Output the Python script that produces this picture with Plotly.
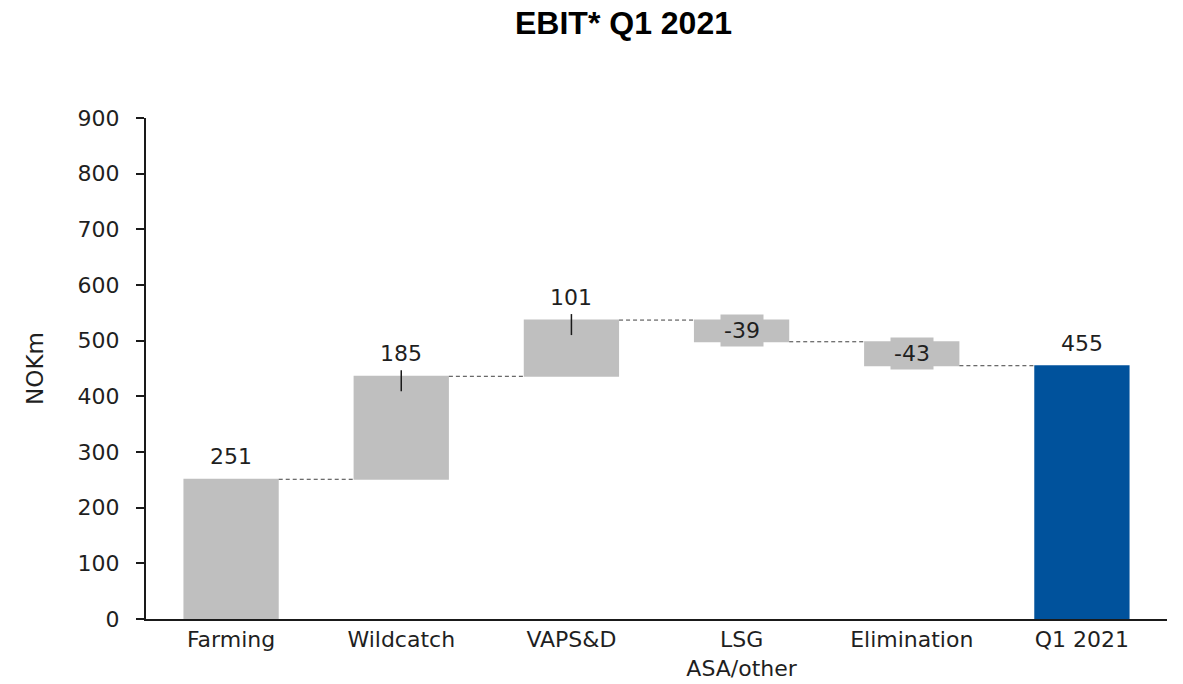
import plotly.graph_objects as go

categories = ["Farming", "Wildcatch", "VAPS&D", "LSG<br>ASA/other", "Elimination", "Q1 2021"]
values = [251, 185, 101, -39, -43, 455]
measures = ["relative", "relative", "relative", "relative", "relative", "total"]
tick_line_cats = ["Wildcatch", "VAPS&D"]
y_ticks = [0, 100, 200, 300, 400, 500, 600, 700, 800, 900]

GRAY = "#BFBFBF"
BLUE = "#00529C"
TXT = "#1F1F1F"
FONT = "DejaVu Sans"
FS = 22

fig = go.Figure(go.Waterfall(
    x=categories, y=values, measure=measures,
    increasing=dict(marker=dict(color=GRAY)),
    decreasing=dict(marker=dict(color=GRAY)),
    totals=dict(marker=dict(color=BLUE)),
    connector=dict(line=dict(color="#404040", width=1, dash="4px,3px")),
    width=0.56,
    hoverinfo="skip",
))

running = 0
annotations = []
shapes = []
for cat, v, m in zip(categories, values, measures):
    if m == "total":
        start, end = 0, running
    else:
        start, end = running, running + v
        running = end
    top = max(start, end)
    if m != "total" and v < 0:
        annotations.append(dict(x=cat, y=(start + end) / 2, text=str(v), showarrow=False,
                                bgcolor=GRAY, borderpad=3,
                                font=dict(family=FONT, size=FS, color=TXT)))
    else:
        label = end if m == "total" else v
        annotations.append(dict(x=cat, y=top, text=str(label), showarrow=False,
                                yanchor="bottom", yshift=8,
                                font=dict(family=FONT, size=FS, color=TXT)))
    if cat in tick_line_cats:
        shapes.append(dict(type="line", xref="x", yref="y", x0=cat, x1=cat,
                           ysizemode="pixel", yanchor=top, y0=6, y1=-15,
                           line=dict(color="#1a1a1a", width=1.5)))

annotations.append(dict(text="<b>EBIT* Q1 2021</b>", xref="paper", yref="paper",
                        x=0.468, y=1.0, yshift=95, xanchor="center", yanchor="middle",
                        showarrow=False,
                        font=dict(family="Liberation Sans, Arial", size=32, color="#000000")))

fig.update_layout(
    width=1183, height=684,
    margin=dict(l=146, r=16, t=118, b=65, autoexpand=False),
    paper_bgcolor="white", plot_bgcolor="white",
    showlegend=False,
    annotations=annotations,
    shapes=shapes,
    font=dict(family=FONT, size=FS, color=TXT),
    xaxis=dict(showline=True, linecolor="#1a1a1a", linewidth=2, ticks="",
               showgrid=False, automargin=False,
               tickfont=dict(family=FONT, size=FS, color=TXT)),
    yaxis=dict(range=[0, 900], tickvals=y_ticks, showline=True, linecolor="#1a1a1a",
               linewidth=2, ticks="outside", ticklen=8, tickcolor="#1a1a1a", tickwidth=1.5,
               showgrid=False, zeroline=False, automargin=False, ticklabelstandoff=12,
               tickfont=dict(family=FONT, size=FS, color=TXT),
               title=dict(text="NOKm", font=dict(family=FONT, size=23, color=TXT), standoff=28)),
)

fig.write_html("out.html")
